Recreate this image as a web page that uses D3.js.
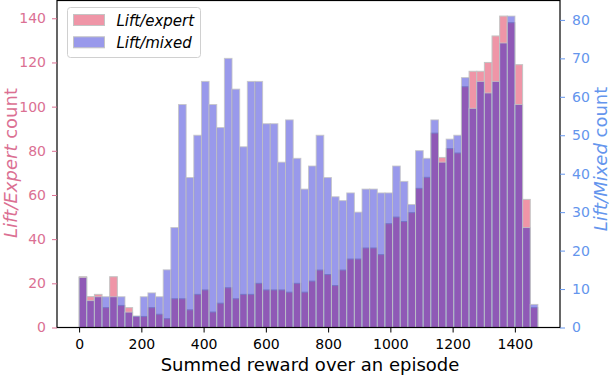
<!DOCTYPE html>
<html>
<head>
<meta charset="utf-8">
<script src="https://cdn.jsdelivr.net/npm/d3@7"></script>
<style>
  body { margin: 0; background: #fff; }
  text { font-family: 'DejaVu Sans', sans-serif; }
</style>
</head>
<body>
<div id="chart"></div>
<script>
// histogram counts per bin (60 bins from 0 to ~1474)
const expertCounts = [
  23, 14, 15, 9, 23, 10, 9, 5, 5, 9,
  6, 4, 13, 13, 8, 15, 17, 7, 11, 18,
  13, 15, 15, 20, 17, 17, 17, 16, 20, 16,
  21, 26, 24, 19, 26, 31, 31, 36, 36, 33,
  47, 50, 48, 52, 63, 68, 88, 77, 81, 79,
  109, 116, 116, 120, 132, 141, 138, 119, 58, 9
]
const mixedCounts = [
  13, 7, 8, 8, 8, 8, 4, 3, 8, 9,
  8, 15, 26, 58, 39, 50, 64, 58, 52, 70,
  62, 47, 64, 64, 53, 53, 43, 54, 44, 36,
  42, 50, 39, 34, 33, 35, 30, 36, 36, 35,
  35, 42, 38, 32, 46, 44, 54, 43, 49, 50,
  65, 57, 64, 61, 64, 74, 81, 58, 26, 6
]
const binStart = 0
const binEnd = 1474

const xTicks = [0, 200, 400, 600, 800, 1000, 1200, 1400]
const leftTicks = [0, 20, 40, 60, 80, 100, 120, 140]
const rightTicks = [0, 10, 20, 30, 40, 50, 60, 70, 80]

const seriesNames = ['Lift/expert', 'Lift/mixed']

const W = 610
const H = 376
const plot = { left: 57, right: 560, top: 0.5, bottom: 327.5 }

const pinkFill = 'rgb(239,149,167)'
const blueFill = 'rgba(0,0,205,0.4)'
const edge = '#c4c4c4'
const pinkText = '#db7093'
const blueText = '#6495ed'

const svg = d3
  .select('#chart')
  .append('svg')
  .attr('width', W)
  .attr('height', H)

const binWidth = (binEnd - binStart) / expertCounts.length
const bins = expertCounts.map((d, i) => ({
  x0: binStart + i * binWidth,
  x1: binStart + (i + 1) * binWidth,
  expert: d,
  mixed: mixedCounts[i]
}))

const xScale = d3.scaleLinear().domain([-71, 1545]).range([plot.left, plot.right])
const yLeft = d3
  .scaleLinear()
  .domain([0, d3.max(expertCounts) * 1.05])
  .range([plot.bottom, plot.top])
const yRight = d3
  .scaleLinear()
  .domain([0, d3.max(mixedCounts) * 1.05])
  .range([plot.bottom, plot.top])

// expert bars (left axis)
svg
  .append('g')
  .selectAll('.expert-bar')
  .data(bins)
  .enter()
  .append('rect')
  .attr('x', d => xScale(d.x0))
  .attr('width', d => xScale(d.x1) - xScale(d.x0))
  .attr('y', d => yLeft(d.expert))
  .attr('height', d => yLeft(0) - yLeft(d.expert))
  .attr('fill', pinkFill)
  .attr('stroke', edge)
  .attr('stroke-width', 1)

// mixed bars (right axis), drawn on top
svg
  .append('g')
  .selectAll('.mixed-bar')
  .data(bins)
  .enter()
  .append('rect')
  .attr('x', d => xScale(d.x0))
  .attr('width', d => xScale(d.x1) - xScale(d.x0))
  .attr('y', d => yRight(d.mixed))
  .attr('height', d => yRight(0) - yRight(d.mixed))
  .attr('fill', blueFill)
  .attr('stroke', edge)
  .attr('stroke-opacity', 0.8)
  .attr('stroke-width', 1)

// frame
svg
  .append('rect')
  .attr('x', plot.left)
  .attr('y', plot.top)
  .attr('width', plot.right - plot.left)
  .attr('height', plot.bottom - plot.top)
  .attr('fill', 'none')
  .attr('stroke', '#000')
  .attr('stroke-width', 1.2)

// axes
const xAxis = d3
  .axisBottom(xScale)
  .tickValues(xTicks)
  .tickFormat(d3.format('d'))
  .tickSize(5)
  .tickPadding(7)
svg
  .append('g')
  .attr('transform', `translate(0,${plot.bottom})`)
  .call(xAxis)
  .call(g => g.select('.domain').remove())
  .call(g => g.selectAll('text').attr('font-size', 14).attr('fill', '#000').attr('font-family', 'DejaVu Sans'))

const leftAxis = d3.axisLeft(yLeft).tickValues(leftTicks).tickSize(5).tickPadding(6)
svg
  .append('g')
  .attr('transform', `translate(${plot.left},0)`)
  .call(leftAxis)
  .call(g => g.select('.domain').remove())
  .call(g => g.selectAll('line').attr('stroke', pinkText))
  .call(g => g.selectAll('text').attr('font-size', 14).attr('fill', pinkText).attr('font-family', 'DejaVu Sans'))

const rightAxis = d3.axisRight(yRight).tickValues(rightTicks).tickSize(5).tickPadding(7)
svg
  .append('g')
  .attr('transform', `translate(${plot.right},0)`)
  .call(rightAxis)
  .call(g => g.select('.domain').remove())
  .call(g => g.selectAll('line').attr('stroke', blueText))
  .call(g => g.selectAll('text').attr('font-size', 14).attr('fill', blueText).attr('font-family', 'DejaVu Sans'))

// axis labels
svg
  .append('text')
  .attr('x', 310)
  .attr('y', 371)
  .attr('text-anchor', 'middle')
  .attr('font-size', 18)
  .attr('fill', '#000')
  .text('Summed reward over an episode')

const leftLabel = svg
  .append('text')
  .attr('transform', 'translate(16.5,163) rotate(-90)')
  .attr('text-anchor', 'middle')
  .attr('font-size', 18)
  .attr('fill', pinkText)
leftLabel.append('tspan').attr('font-style', 'italic').text('Lift/Expert')
leftLabel.append('tspan').text(' count')

const rightLabel = svg
  .append('text')
  .attr('transform', 'translate(607,159) rotate(-90)')
  .attr('text-anchor', 'middle')
  .attr('font-size', 18)
  .attr('fill', blueText)
rightLabel.append('tspan').attr('font-style', 'italic').text('Lift/Mixed')
rightLabel.append('tspan').text(' count')

// legend
const legend = svg.append('g')
legend
  .append('rect')
  .attr('x', 67.5)
  .attr('y', 7.5)
  .attr('width', 133)
  .attr('height', 50)
  .attr('rx', 3)
  .attr('fill', 'rgba(255,255,255,0.8)')
  .attr('stroke', '#d0d0d0')

const legendFills = [pinkFill, 'rgb(153,153,235)']
legend
  .selectAll('.legend-patch')
  .data(seriesNames)
  .enter()
  .append('rect')
  .attr('x', 73.5)
  .attr('y', (d, i) => 14.5 + i * 22.3)
  .attr('width', 31)
  .attr('height', 11)
  .attr('fill', (d, i) => legendFills[i])
  .attr('stroke', edge)

legend
  .selectAll('.legend-text')
  .data(seriesNames)
  .enter()
  .append('text')
  .attr('x', 116.5)
  .attr('y', (d, i) => 25.5 + i * 22.3)
  .attr('font-size', 15)
  .attr('font-style', 'italic')
  .attr('fill', '#000')
  .text(d => d)
</script>
</body>
</html>
